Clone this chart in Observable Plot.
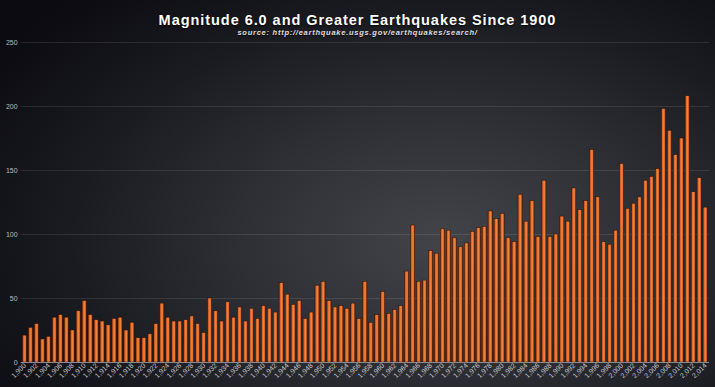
<!DOCTYPE html>
<html>
<head>
<meta charset="utf-8">
<script src="https://cdn.jsdelivr.net/npm/d3@7"></script>
<script src="https://cdn.jsdelivr.net/npm/@observablehq/plot@0.6"></script>
<style>
  html, body { margin: 0; padding: 0; }
  body {
    width: 715px; height: 387px; overflow: hidden;
    background: radial-gradient(ellipse 75% 85% at 62% 62%, #43444a 0%, #303137 35%, #1a1a21 70%, #0b0b11 100%);
    font-family: "Liberation Sans", Arial, sans-serif;
  }
  #title {
    height: 36px; box-sizing: border-box; text-align: center; color: #fff;
  }
  #title .t {
    padding-top: 13px; font-size: 14.5px; font-weight: bold; letter-spacing: 0.95px; line-height: 15px;
    text-shadow: 0 1px 2px rgba(0,0,0,0.9);
  }
  #title .s {
    font-size: 7.5px; font-weight: bold; font-style: italic; letter-spacing: 0.75px; color: #e0e0e0; line-height: 9px;
    text-shadow: 0 1px 1px rgba(0,0,0,0.9);
  }
</style>
</head>
<body>
<div id="title">
  <div class="t">Magnitude 6.0 and Greater Earthquakes Since 1900</div>
  <div class="s">source: http://earthquake.usgs.gov/earthquakes/search/</div>
</div>
<div id="chart"></div>
<script>
const startYear = 1900;
const counts1900s = [21,27,30,18,20,35,37,35,25,40,48,37,33,32,29,34,35,25,31,19,19,22,30,46,35,32,32,33,36,30,23,50,40,32,47,35,43];
const counts1937s = [32,42,34,44,42,39,62,53,45,48,34,39,60,63,48,43,44,42,46,34,63,31,37,55,38,41,44,71,107,63,64,87,85];
const counts1970s = [104,103,97,90,93,102,105,106,118,112,116,97,94,131,110,126,98,142,98,100,114,110,136,119,126,166,129,94,92,103,155,120,124,129,142,145,151,198,181,162,175,208,133,144,121];
const yTicks = [0, 50, 100, 150, 200, 250];

const counts = [...counts1900s, ...counts1937s, ...counts1970s];
const years = counts.map((_, i) => startYear + i);
const data = years.map((year, i) => ({year, count: counts[i]}));
const xTicks = years.filter(y => y % 2 === 0);

const plot = Plot.plot({
  width: 715,
  height: 351,
  marginLeft: 20.6,
  marginRight: 6,
  marginTop: 6,
  marginBottom: 25,
  style: {background: "transparent", color: "#bdbdc2", fontFamily: "Liberation Sans, Arial, sans-serif"},
  x: {type: "band", domain: years, padding: 0.3, label: null},
  y: {domain: [0, 250], label: null},
  marks: [
    Plot.ruleY(yTicks.slice(1), {stroke: "#ffffff", strokeOpacity: 0.1}),
    Plot.barY(data, {x: "year", y: "count", fill: "url(#barGrad)", stroke: "#2a1206", strokeWidth: 0.5}),
    Plot.ruleY([0], {stroke: "#8a8a90", strokeWidth: 1}),
    Plot.axisY({ticks: yTicks, tickSize: 0, tickPadding: 3.5, fontSize: 7, label: null}),
    Plot.axisX({ticks: xTicks, tickSize: 0, tickPadding: 2, tickRotate: -45, fontSize: 7, label: null, fill: "#c8c8cc"})
  ]
});

const svg = d3.select(plot);
const defs = svg.insert("defs", ":first-child");
const g = defs.append("linearGradient").attr("id", "barGrad").attr("x1", "0").attr("x2", "1").attr("y1", "0").attr("y2", "0");
g.append("stop").attr("offset", "0%").attr("stop-color", "#a83c0c");
g.append("stop").attr("offset", "40%").attr("stop-color", "#ec7630");
g.append("stop").attr("offset", "60%").attr("stop-color", "#f08540");
g.append("stop").attr("offset", "100%").attr("stop-color", "#b0420e");

document.getElementById("chart").appendChild(plot);
</script>
</body>
</html>
